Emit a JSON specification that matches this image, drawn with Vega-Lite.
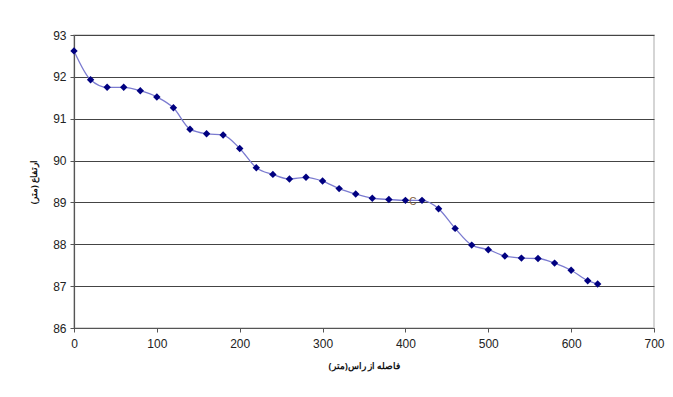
{
  "$schema": "https://vega.github.io/schema/vega-lite/v6.json",
  "width": 580,
  "height": 293,
  "autosize": {"type": "none"},
  "padding": {"left": 74, "top": 35, "right": 19, "bottom": 69},
  "background": "white",
  "config": {
    "view": {"stroke": "#c8c8c8", "strokeWidth": 1.5},
    "font": "Liberation Sans",
    "axis": {
      "labelFont": "Liberation Sans",
      "labelFontSize": 12,
      "labelColor": "#222222",
      "labelFlush": false,
      "labelOverlap": false,
      "titleFont": "Noto Sans",
      "titleFontSize": 9,
      "titleFontWeight": "bold",
      "titleColor": "#111111",
      "domainColor": "#555555",
      "tickColor": "#555555",
      "tickSize": 4,
      "domainWidth": 1.2
    }
  },
  "data": {
    "values": [
      {"d": 0, "h": 92.62},
      {"d": 20, "h": 91.93},
      {"d": 40, "h": 91.75},
      {"d": 60, "h": 91.75},
      {"d": 80, "h": 91.67},
      {"d": 100, "h": 91.52},
      {"d": 120, "h": 91.26},
      {"d": 140, "h": 90.75},
      {"d": 160, "h": 90.64},
      {"d": 180, "h": 90.61},
      {"d": 200, "h": 90.29},
      {"d": 220, "h": 89.83},
      {"d": 240, "h": 89.67},
      {"d": 260, "h": 89.56},
      {"d": 280, "h": 89.6},
      {"d": 300, "h": 89.51},
      {"d": 320, "h": 89.33},
      {"d": 340, "h": 89.2},
      {"d": 360, "h": 89.1},
      {"d": 380, "h": 89.07},
      {"d": 400, "h": 89.05},
      {"d": 420, "h": 89.05},
      {"d": 440, "h": 88.85},
      {"d": 460, "h": 88.38},
      {"d": 480, "h": 87.98},
      {"d": 500, "h": 87.87},
      {"d": 520, "h": 87.72},
      {"d": 540, "h": 87.67},
      {"d": 560, "h": 87.66},
      {"d": 580, "h": 87.55},
      {"d": 600, "h": 87.38},
      {"d": 620, "h": 87.13},
      {"d": 632, "h": 87.05}
    ]
  },
  "encoding": {
    "x": {
      "field": "d",
      "type": "quantitative",
      "scale": {"domain": [0, 700], "nice": false},
      "axis": {
        "title": "فاصله از راس(متر)",
        "values": [0, 100, 200, 300, 400, 500, 600, 700],
        "grid": false,
        "labelPadding": 6,
        "titlePadding": 12
      }
    },
    "y": {
      "field": "h",
      "type": "quantitative",
      "scale": {"domain": [86, 93], "nice": false, "zero": false},
      "axis": {
        "title": "ارتفاع (متر)",
        "values": [86, 87, 88, 89, 90, 91, 92, 93],
        "grid": true,
        "gridColor": "#444444",
        "gridWidth": 1,
        "labelPadding": 4,
        "titlePadding": 14
      }
    }
  },
  "layer": [
    {
      "mark": {"type": "line", "interpolate": "monotone", "color": "#7b7bd0", "strokeWidth": 1.3}
    },
    {
      "mark": {"type": "point", "shape": "diamond", "filled": true, "color": "#000080", "size": 55, "opacity": 1}
    },
    {
      "data": {"values": [{"d": 409, "h": 89.02, "label": "C"}]},
      "mark": {"type": "text", "color": "#806040", "fontSize": 10, "font": "Liberation Sans"},
      "encoding": {
        "text": {"field": "label"}
      }
    }
  ]
}
